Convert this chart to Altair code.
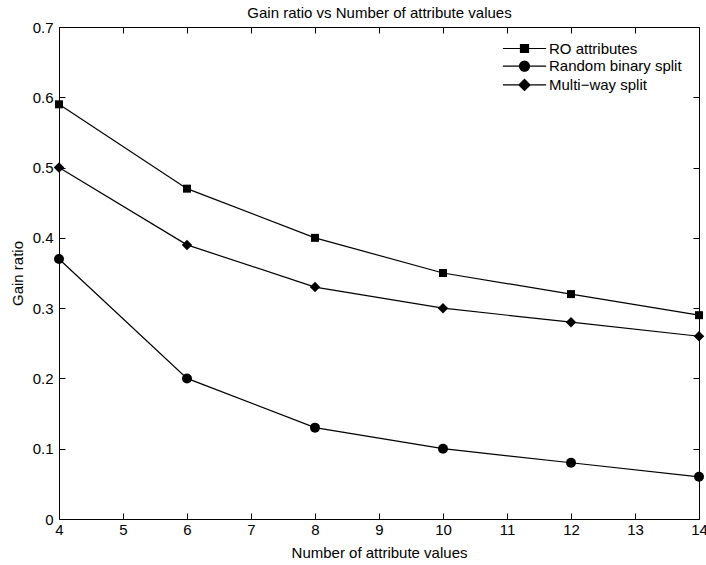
import altair as alt
import pandas as pd

# ---- data ----
x_values = [4, 6, 8, 10, 12, 14]
ro_attributes = [0.59, 0.47, 0.40, 0.35, 0.32, 0.29]
random_binary_split = [0.37, 0.20, 0.13, 0.10, 0.08, 0.06]
multi_way_split = [0.50, 0.39, 0.33, 0.30, 0.28, 0.26]
series_names = ["RO attributes", "Random binary split", "Multi\u2212way split"]
x_ticks = [4, 5, 6, 7, 8, 9, 10, 11, 12, 13, 14]
y_ticks = [0, 0.1, 0.2, 0.3, 0.4, 0.5, 0.6, 0.7]
chart_title = "Gain ratio vs Number of attribute values"

rows = []
for name, vals in zip(series_names, [ro_attributes, random_binary_split, multi_way_split]):
    for xv, yv in zip(x_values, vals):
        rows.append({"x": xv, "value": yv, "series": name})
df = pd.DataFrame(rows)

FONT = "Liberation Sans"
FS = 15
TICK = 6

x_scale = alt.Scale(domain=[4, 14], nice=False, zero=False)
y_scale = alt.Scale(domain=[0, 0.7], nice=False, zero=False)

axis_x_main = alt.Axis(
    orient="bottom",
    values=x_ticks, ticks=False, domain=False, grid=False, labelFlush=False,
    labelPadding=3, labelFont=FONT, labelFontSize=FS, labelColor="black",
    labelOverlap=False,
    title="Number of attribute values", titleFont=FONT, titleFontSize=FS,
    titleFontWeight="normal", titleColor="black", titleX=320, titleY=38,
    titleBaseline="alphabetic", titleAlign="center",
)
axis_y_main = alt.Axis(
    orient="left",
    values=y_ticks, format=".1~f", ticks=False, domain=False, grid=False,
    labelFlush=False, labelPadding=6, labelFont=FONT, labelFontSize=FS,
    labelColor="black", labelOverlap=False,
    title="Gain ratio", titleFont=FONT, titleFontSize=FS,
    titleFontWeight="normal", titleColor="black", titleAngle=270,
    titleX=-37, titleY=246, titleBaseline="alphabetic", titleAlign="center",
)


def tick_axis(orient, values, title=None):
    kw = dict(
        orient=orient, values=values, offset=-TICK, tickSize=TICK, ticks=True,
        labels=False, domain=False, grid=False,
        tickColor="black", tickWidth=1, zindex=2,
    )
    if title is None:
        kw["title"] = None
    else:
        kw.update(
            title=title, titleFont=FONT, titleFontSize=FS,
            titleFontWeight="normal", titleColor="black", titleX=320,
            titleY=-16 - (TICK - 6), titleBaseline="alphabetic", titleAlign="center",
        )
    return alt.Axis(**kw)


legend_paths = [
    "M-5.4,0H5.4M-1,-1H1V1H-1Z",
    "M-5.4,0H5.4M1.25,0A1.25,1.25,0,1,1,-1.25,0A1.25,1.25,0,1,1,1.25,0Z",
    "M-5.4,0H5.4M-1.4,0L0,-1.4L1.4,0L0,1.4Z",
]

legend_def = alt.Legend(
    title=None, orient="none", legendX=458, legendY=14,
    labelFont=FONT, labelFontSize=FS, labelColor="black",
    labelOffset=17, symbolSize=64, symbolOpacity=1,
    symbolStrokeColor="black", symbolFillColor="black",
    symbolStrokeWidth=1.2, rowPadding=1.7, padding=0,
)

base = alt.Chart(df)

lines = base.mark_line(color="black", strokeWidth=1.2).encode(
    x=alt.X("x:Q", scale=x_scale, axis=axis_x_main),
    y=alt.Y("value:Q", scale=y_scale, axis=axis_y_main),
    detail="series:N",
)

legend_layer = base.mark_point(
    filled=True, color="black", strokeWidth=1.2, opacity=0, size=64,
).encode(
    x=alt.X("x:Q", scale=x_scale, axis=tick_axis("bottom", x_ticks)),
    y=alt.Y("value:Q", scale=y_scale, axis=tick_axis("left", y_ticks)),
    shape=alt.Shape(
        "series:N",
        scale=alt.Scale(domain=series_names, range=legend_paths),
        legend=legend_def,
    ),
    stroke=alt.Stroke(
        "series:N",
        scale=alt.Scale(domain=series_names, range=["black", "black", "black"]),
        legend=legend_def,
    ),
)

squares = base.transform_filter(alt.datum.series == series_names[0]).mark_point(
    filled=True, shape="square", size=64, color="black", opacity=1
).encode(
    x=alt.X("x:Q", scale=x_scale, axis=tick_axis("top", x_ticks, chart_title)),
    y=alt.Y("value:Q", scale=y_scale, axis=tick_axis("right", y_ticks)),
)

circles = base.transform_filter(alt.datum.series == series_names[1]).mark_point(
    filled=True, shape="circle", size=100, color="black", opacity=1
).encode(
    x=alt.X("x:Q", scale=x_scale, axis=None),
    y=alt.Y("value:Q", scale=y_scale, axis=None),
)

diamonds = base.transform_filter(alt.datum.series == series_names[2]).mark_point(
    filled=True, shape="diamond", size=110, color="black", opacity=1
).encode(
    x=alt.X("x:Q", scale=x_scale, axis=None),
    y=alt.Y("value:Q", scale=y_scale, axis=None),
)

chart = (
    alt.layer(lines, legend_layer, squares, circles, diamonds)
    .resolve_axis(x="independent", y="independent")
    .properties(
        width=640,
        height=492,
        padding={"left": 59, "top": 27, "right": 7, "bottom": 46},
        autosize=alt.AutoSizeParams(type="none"),
        background="white",
    )
    .configure_view(stroke="black", strokeWidth=1)
)

chart.save("out.html", embed_options={"renderer": "svg", "actions": False})
